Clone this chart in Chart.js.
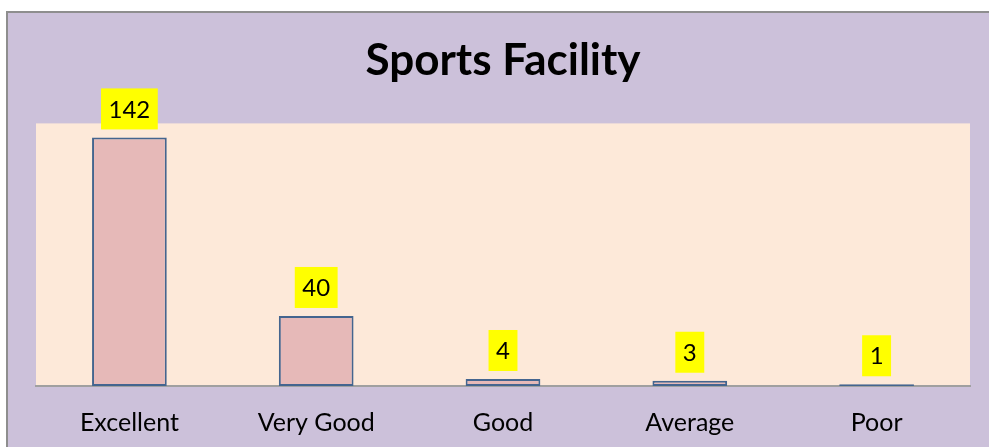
<!DOCTYPE html>
<html>
<head>
<meta charset="utf-8">
<script src="https://cdn.jsdelivr.net/npm/chart.js@4/dist/chart.umd.min.js"></script>
<style>
  html, body { margin: 0; padding: 0; background: #ffffff; }
  #frame {
    position: absolute;
    left: 6px;
    top: 11px;
    width: 981px;
    height: 434px;
    border-left: 2px solid #8e8e8e;
    border-top: 2px solid #8e8e8e;
    background: #ccc1da;
  }
  #frame canvas { display: block; }
</style>
</head>
<body>
<div id="frame"><canvas id="sportsChart" width="981" height="434"></canvas></div>
<script>
const categories = ["Excellent", "Very Good", "Good", "Average", "Poor"];
const responses = [142, 40, 4, 3, 1];
const yMax = 150;

const COLORS = {
  plotBg: "#fde9d9",
  barFill: "#e6b9b8",
  barBorder: "#44658f",
  axisLine: "#a0a0a0",
  labelBg: "#ffff00",
  text: "#000000",
};

// peach fill behind the plot area
const plotBackground = {
  id: "plotBackground",
  beforeDraw(chart) {
    const { ctx, chartArea: a } = chart;
    ctx.save();
    ctx.fillStyle = COLORS.plotBg;
    ctx.fillRect(a.left, a.top, a.right - a.left, a.bottom - a.top);
    ctx.restore();
  },
};

// yellow value boxes above each bar
const valueBoxes = {
  id: "valueBoxes",
  afterDatasetsDraw(chart) {
    const { ctx } = chart;
    const meta = chart.getDatasetMeta(0);
    ctx.save();
    ctx.font = "24px Lato";
    ctx.textAlign = "center";
    ctx.textBaseline = "middle";
    meta.data.forEach((bar, i) => {
      const text = String(chart.data.datasets[0].data[i]);
      const w = ctx.measureText(text).width + 15;
      const h = 41;
      const bottom = bar.y - 8;
      ctx.fillStyle = COLORS.labelBg;
      ctx.fillRect(bar.x - w / 2, bottom - h, w, h);
      ctx.fillStyle = COLORS.text;
      ctx.fillText(text, bar.x, bottom - h / 2 + 1);
    });
    ctx.restore();
  },
};

new Chart(document.getElementById("sportsChart"), {
  type: "bar",
  data: {
    labels: categories,
    datasets: [
      {
        data: responses,
        backgroundColor: COLORS.barFill,
        borderColor: COLORS.barBorder,
        borderWidth: 2,
        borderSkipped: false,
        categoryPercentage: 1,
        barPercentage: 0.4,
      },
    ],
  },
  options: {
    responsive: false,
    animation: false,
    layout: { padding: { left: 28, right: 19, top: 0, bottom: 0 } },
    plugins: {
      legend: { display: false },
      tooltip: { enabled: false },
      title: {
        display: true,
        text: "Sports Facility",
        color: COLORS.text,
        font: { family: "Lato", size: 44, weight: "bold", lineHeight: 1.2 },
        padding: { top: 21, bottom: 36.6 },
      },
    },
    scales: {
      x: {
        grid: { display: false, drawTicks: false },
        border: { display: true, color: COLORS.axisLine, width: 2 },
        ticks: {
          color: COLORS.text,
          font: { family: "Lato", size: 25 },
          padding: 22,
        },
        afterFit(scale) {
          scale.height = 61;
        },
      },
      y: {
        display: false,
        min: 0,
        max: yMax,
      },
    },
  },
  plugins: [plotBackground, valueBoxes],
});
</script>
</body>
</html>
